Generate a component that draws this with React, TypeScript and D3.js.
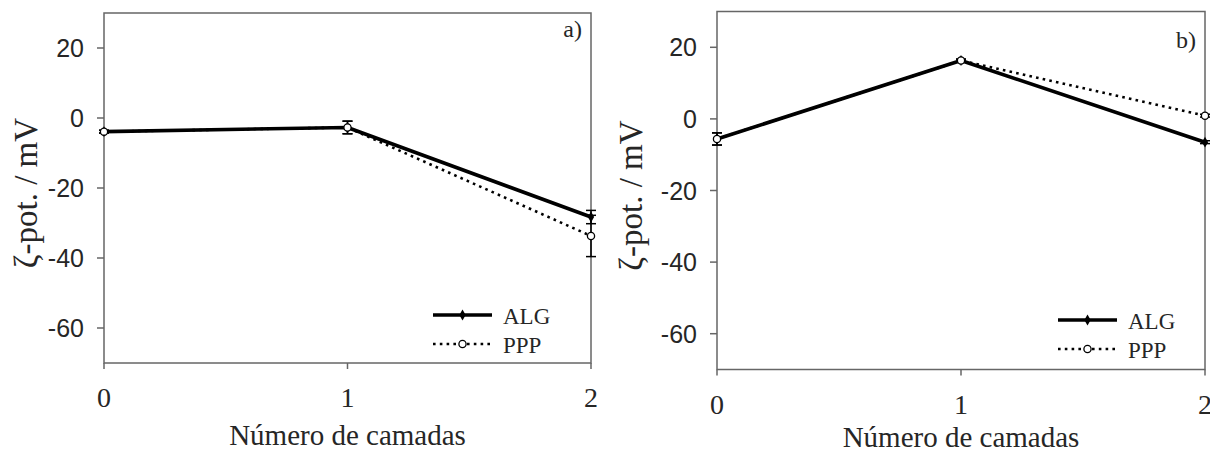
import React from "react";
import * as d3 from "d3";

const layers = [0, 1, 2];
const xTicks = [0, 1, 2];
const yTicks = [-60, -40, -20, 0, 20];
const yDomain = [-70, 30];

const algA = [-3.9, -2.7, -28.3];
const algAErr = [0.4, 1.8, 1.9];
const pppA = [-3.9, -2.7, -33.7];
const pppAErr = [0.4, 1.8, 5.9];

const algB = [-5.6, 16.3, -6.5];
const algBErr = [1.7, 0.4, 0.4];
const pppB = [-5.6, 16.3, 0.9];
const pppBErr = [1.7, 0.4, 0.4];

const seriesNames = ["ALG", "PPP"];
const panelLabels = ["a)", "b)"];
const xTitle = "Número de camadas";
const yTitle = "ζ-pot. / mV";

const SERIF = "'Liberation Serif', 'Times New Roman', serif";
const SANS = "'Liberation Sans', Arial, sans-serif";
const TXT = "#262626";
const AXIS = "#666";

type PanelProps = {
  x0: number; x1: number; yTop: number; yBot: number;
  alg: number[]; algErr: number[]; ppp: number[]; pppErr: number[];
  label: string; labelY: number; yTitleX: number; xTitleDy: number;
  legX: number; legY: number;
};

function Panel(p: PanelProps) {
  const x = d3.scaleLinear().domain([0, 2]).range([p.x0, p.x1]);
  const y = d3.scaleLinear().domain(yDomain).range([p.yBot, p.yTop]);
  const line = d3.line<number>().x((_, i) => x(layers[i])).y((d) => y(d));
  const diamond = d3.symbol().type(d3.symbolDiamond).size(34)()!;
  const cap = 5;
  const errBars = (vals: number[], errs: number[], key: string) =>
    vals.map((v, i) => {
      const cx = x(layers[i]);
      const yt = y(v + errs[i]);
      const yb = y(v - errs[i]);
      return (
        <g key={key + i} stroke="#000" strokeWidth={1.5}>
          <line x1={cx} x2={cx} y1={yt} y2={yb} />
          <line x1={cx - cap} x2={cx + cap} y1={yt} y2={yt} />
          <line x1={cx - cap} x2={cx + cap} y1={yb} y2={yb} />
        </g>
      );
    });
  const midY = (p.yTop + p.yBot) / 2;
  return (
    <g>
      <rect x={p.x0} y={p.yTop} width={p.x1 - p.x0} height={p.yBot - p.yTop} fill="none" stroke={AXIS} strokeWidth={1.5} />
      {yTicks.map((t) => (
        <g key={"y" + t}>
          <line x1={p.x0 - 7} x2={p.x0} y1={y(t)} y2={y(t)} stroke={AXIS} strokeWidth={1.5} />
          <text x={p.x0 - 20} y={y(t)} dy="0.36em" textAnchor="end" fontFamily={SANS} fontSize={25} fill={TXT}>{t}</text>
        </g>
      ))}
      {xTicks.map((t) => (
        <g key={"x" + t}>
          <line x1={x(t)} x2={x(t)} y1={p.yBot} y2={p.yBot + 6} stroke={AXIS} strokeWidth={1.5} />
          <text x={x(t)} y={p.yBot + 44} textAnchor="middle" fontFamily={SERIF} fontSize={28} fill={TXT}>{t}</text>
        </g>
      ))}
      <text x={(p.x0 + p.x1) / 2} y={p.yBot + p.xTitleDy} textAnchor="middle" fontFamily={SERIF} fontSize={29} fill={TXT}>{xTitle}</text>
      <text transform={`translate(${p.yTitleX},${midY + 5}) rotate(-90)`} textAnchor="middle" fontFamily={SERIF} fontSize={33} fill={TXT}>{yTitle}</text>
      <text x={p.x1 - 9} y={p.labelY} textAnchor="end" fontFamily={SERIF} fontSize={24} fill={TXT}>{p.label}</text>

      <path d={line(p.ppp)!} fill="none" stroke="#000" strokeWidth={2.6} strokeDasharray="2.6 4.2" />
      <path d={line(p.alg)!} fill="none" stroke="#000" strokeWidth={3.6} strokeLinejoin="round" />
      {errBars(p.alg, p.algErr, "ea")}
      {errBars(p.ppp, p.pppErr, "ep")}
      {p.alg.map((v, i) => (
        <path key={"ma" + i} d={diamond} transform={`translate(${x(layers[i])},${y(v)})`} fill="#000" />
      ))}
      {p.ppp.map((v, i) => (
        <circle key={"mp" + i} cx={x(layers[i])} cy={y(v)} r={3.6} fill="#fff" stroke="#000" strokeWidth={1.3} />
      ))}

      <g>
        <line x1={p.legX} x2={p.legX + 59} y1={p.legY} y2={p.legY} stroke="#000" strokeWidth={3.6} />
        <path d={diamond} transform={`translate(${p.legX + 29.5},${p.legY})`} fill="#000" />
        <text x={p.legX + 70} y={p.legY + 9} fontFamily={SERIF} fontSize={23} fill={TXT}>{seriesNames[0]}</text>
        <line x1={p.legX} x2={p.legX + 59} y1={p.legY + 29} y2={p.legY + 29} stroke="#000" strokeWidth={2.6} strokeDasharray="2.6 4.2" />
        <circle cx={p.legX + 29.5} cy={p.legY + 29} r={3.6} fill="#fff" stroke="#000" strokeWidth={1.3} />
        <text x={p.legX + 70} y={p.legY + 38} fontFamily={SERIF} fontSize={23} fill={TXT}>{seriesNames[1]}</text>
      </g>
    </g>
  );
}

export default function App() {
  return (
    <svg width={1210} height={452} style={{ position: "absolute", left: 0, top: 0, background: "#fff" }}>
      <rect width={1210} height={452} fill="#fff" />
      <Panel x0={104} x1={591} yTop={13} yBot={363} alg={algA} algErr={algAErr} ppp={pppA} pppErr={pppAErr}
        label={panelLabels[0]} labelY={37} yTitleX={37} xTitleDy={82} legX={433} legY={315} />
      <Panel x0={717} x1={1205} yTop={11.5} yBot={369.5} alg={algB} algErr={algBErr} ppp={pppB} pppErr={pppBErr}
        label={panelLabels[1]} labelY={48} yTitleX={642} xTitleDy={77} legX={1058} legY={320} />
    </svg>
  );
}
